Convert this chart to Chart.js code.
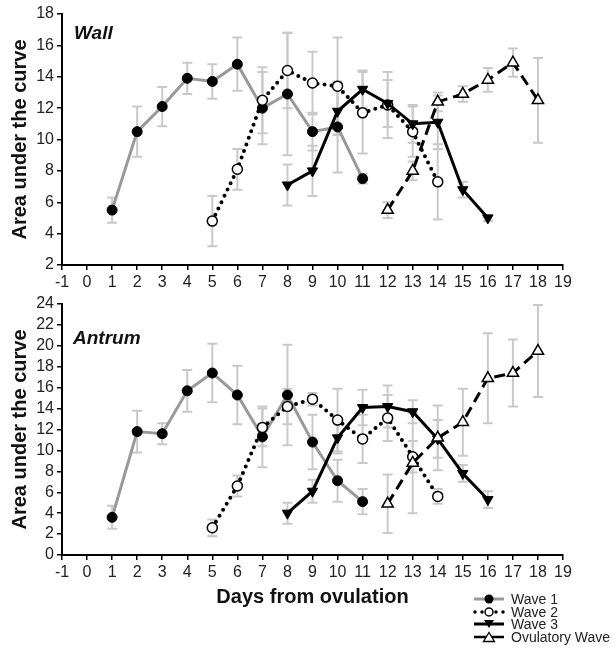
<!DOCTYPE html>
<html>
<head>
<meta charset="utf-8">
<script src="https://cdn.jsdelivr.net/npm/chart.js@4.4.1/dist/chart.umd.min.js"></script>
<style>
    body { margin: 0; background: #fff; }
    #page { position: relative; width: 616px; height: 658px; overflow: hidden; font-family: "Liberation Sans", Arial, sans-serif; }
    .box { position: absolute; left: 0; }
    .panel { position: absolute; font-weight: bold; font-style: italic; font-size: 19px; color: #111; }
    #legend { position: absolute; left: 472px; top: 593px; font-size: 14px; color: #222; }
    #legend div { height: 12.5px; line-height: 12.5px; display: flex; align-items: center; }
    #legend svg { margin-right: 5px; }
</style>
</head>
<body>
<div id="page">
    <div class="box" style="top:0"><canvas id="wallChart" width="616" height="300"></canvas></div>
    <div class="box" style="top:290px"><canvas id="antrumChart" width="616" height="330"></canvas></div>
    <div class="panel" style="left:74px; top:22px">Wall</div>
    <div class="panel" style="left:73px; top:327px">Antrum</div>
    <div id="legend">
        <div><svg width="34" height="12"><line x1="2" y1="6" x2="32" y2="6" stroke="#999" stroke-width="3"/><circle cx="17" cy="6" r="4.5" fill="#000"/></svg>Wave 1</div>
        <div><svg width="34" height="12"><line x1="3" y1="6" x2="32" y2="6" stroke="#000" stroke-width="3.5" stroke-linecap="round" stroke-dasharray="0 7"/><circle cx="17" cy="6" r="4" fill="#fff" stroke="#000" stroke-width="1.5"/></svg>Wave 2</div>
        <div><svg width="34" height="12"><line x1="2" y1="6" x2="32" y2="6" stroke="#000" stroke-width="3"/><polygon points="12,2 22,2 17,10" fill="#000"/></svg>Wave 3</div>
        <div><svg width="34" height="12"><line x1="2" y1="6" x2="32" y2="6" stroke="#000" stroke-width="2.5"/><polygon points="17,1.5 22.5,10.5 11.5,10.5" fill="#fff" stroke="#000" stroke-width="1.3"/></svg>Ovulatory Wave</div>
    </div>
</div>

<script>
// ---- data ----
const wave1Days = [1, 2, 3, 4, 5, 6, 7, 8, 9, 10, 11];
const wave2Days = [5, 6, 7, 8, 9, 10, 11, 12, 13, 14];
const wave3Days = [8, 9, 10, 11, 12, 13, 14, 15, 16];
const ovulDays = [12, 13, 14, 15, 16, 17, 18];

const xTicks = [-1, 0, 1, 2, 3, 4, 5, 6, 7, 8, 9, 10, 11, 12, 13, 14, 15, 16, 17, 18, 19];

// Wall
const wallWave1 = [5.5, 10.5, 12.1, 13.9, 13.7, 14.8, 12.0, 12.9, 10.5, 10.8, 7.5];
const wallWave1Err = [0.8, 1.6, 1.25, 1.0, 1.1, 1.7, 2.3, 3.9, 1.2, 2.9, 0.3];
const wallWave2 = [4.8, 8.1, 12.5, 14.4, 13.6, 13.4, 11.7, 12.2, 10.5, 7.3];
const wallWave2Err = [1.6, 1.3, 2.1, 2.4, 2.0, 3.1, 2.6, 2.1, 1.6, 2.4];
const wallWave3 = [7.1, 8.0, 11.8, 13.2, 12.3, 11.0, 11.1, 6.8, 5.0];
const wallWave3Err = [1.3, 1.6, 1.5, 1.2, 1.5, 1.2, 1.7, 0.5, 0.2];
const wallOvul = [5.5, 8.0, 12.4, 12.9, 13.8, 14.9, 12.5];
const wallOvulErr = [0.5, 0.6, 0.6, 0.5, 0.75, 0.9, 2.7];

// Antrum
const antrumWave1 = [3.6, 11.8, 11.6, 15.7, 17.4, 15.3, 11.3, 15.3, 10.8, 7.1, 5.1];
const antrumWave1Err = [1.1, 2.0, 1.0, 2.0, 2.8, 2.8, 2.9, 4.8, 2.6, 2.0, 1.2];
const antrumWave2 = [2.6, 6.6, 12.2, 14.2, 14.9, 12.9, 11.1, 13.1, 9.4, 5.6];
const antrumWave2Err = [0.8, 1.0, 1.8, 1.7, 0.6, 3.0, 2.3, 2.2, 1.5, 0.7];
const antrumWave3 = [4.0, 6.1, 11.2, 14.1, 14.2, 13.7, 11.1, 7.8, 5.3];
const antrumWave3Err = [1.0, 1.1, 1.5, 1.7, 2.0, 1.1, 1.8, 0.8, 0.8];
const antrumOvul = [4.9, 8.8, 11.2, 12.7, 16.9, 17.4, 19.5];
const antrumOvulErr = [2.8, 4.8, 3.1, 3.2, 4.3, 3.2, 4.4];

const FONT = "'Liberation Sans', Arial, sans-serif";

function pts(days, vals) {
    return days.map((d, i) => ({ x: d, y: vals[i] }));
}

// grey error bars drawn under the lines
const errorBars = {
    id: "errorBars",
    beforeDatasetsDraw(chart) {
        const ctx = chart.ctx;
        const yScale = chart.scales.y;
        ctx.save();
        ctx.strokeStyle = "#c9c9c9";
        ctx.lineWidth = 2;
        chart.data.datasets.forEach((ds, di) => {
            const meta = chart.getDatasetMeta(di);
            meta.data.forEach((pt, i) => {
                const e = ds.errors[i];
                const v = ds.data[i].y;
                const yTop = yScale.getPixelForValue(v + e);
                const yBot = yScale.getPixelForValue(v - e);
                ctx.beginPath();
                ctx.moveTo(pt.x, yTop);
                ctx.lineTo(pt.x, yBot);
                ctx.moveTo(pt.x - 5, yTop);
                ctx.lineTo(pt.x + 5, yTop);
                ctx.moveTo(pt.x - 5, yBot);
                ctx.lineTo(pt.x + 5, yBot);
                ctx.stroke();
            });
        });
        ctx.restore();
    }
};

function makeDatasets(w1, e1, w2, e2, w3, e3, ov, eov) {
    return [
        {
            data: pts(wave1Days, w1), errors: e1, order: 4,
            borderColor: "#999", borderWidth: 3,
            pointStyle: "circle", pointRadius: 5,
            pointBackgroundColor: "#000", pointBorderColor: "#000", pointBorderWidth: 1
        },
        {
            data: pts(wave2Days, w2), errors: e2, order: 3,
            borderColor: "#000", borderWidth: 4, borderDash: [0, 7], borderCapStyle: "round",
            pointStyle: "circle", pointRadius: 5,
            pointBackgroundColor: "#fff", pointBorderColor: "#000", pointBorderWidth: 1.5
        },
        {
            data: pts(wave3Days, w3), errors: e3, order: 2,
            borderColor: "#000", borderWidth: 3,
            pointStyle: "triangle", pointRotation: 180, pointRadius: 6,
            pointBackgroundColor: "#000", pointBorderColor: "#000", pointBorderWidth: 1
        },
        {
            data: pts(ovulDays, ov), errors: eov, order: 1,
            borderColor: "#000", borderWidth: 3, borderDash: [11, 6],
            pointStyle: "triangle", pointRadius: 6.5,
            pointBackgroundColor: "#fff", pointBorderColor: "#000", pointBorderWidth: 1.5
        }
    ];
}

function makeChart(id, datasets, yMin, yMax, xAxisHeight, xTitle, padBottom) {
    return new Chart(document.getElementById(id), {
        type: "line",
        data: { datasets: datasets },
        plugins: [errorBars],
        options: {
            responsive: false,
            animation: false,
            layout: { padding: { top: 14, right: 53, left: 0, bottom: padBottom } },
            plugins: { legend: { display: false }, tooltip: { enabled: false } },
            scales: {
                x: {
                    type: "linear", min: -1, max: 19,
                    afterBuildTicks: (s) => { s.ticks = xTicks.map(v => ({ value: v })); },
                    afterFit: (s) => { s.height = xAxisHeight; },
                    ticks: { autoSkip: false, maxRotation: 0, padding: 3, color: "#222", font: { family: FONT, size: 16 } },
                    grid: { drawOnChartArea: false, drawTicks: true, tickLength: 5, color: "#000", lineWidth: 1.5 },
                    border: { color: "#000", width: 2 },
                    title: {
                        display: !!xTitle, text: xTitle || "", color: "#111",
                        font: { family: FONT, size: 20, weight: "bold" }, padding: { top: 2, bottom: 2 }
                    }
                },
                y: {
                    min: yMin, max: yMax,
                    afterFit: (s) => { s.width = 62; },
                    ticks: { stepSize: 2, autoSkip: false, padding: 3, color: "#222", font: { family: FONT, size: 16 } },
                    grid: { drawOnChartArea: false, drawTicks: true, tickLength: 5, color: "#000", lineWidth: 1.5 },
                    border: { color: "#000", width: 2 },
                    title: {
                        display: true, text: "Area under the curve", color: "#111",
                        font: { family: FONT, size: 20, weight: "bold" }, padding: { top: 8, bottom: 0 }
                    }
                }
            }
        }
    });
}

makeChart("wallChart",
    makeDatasets(wallWave1, wallWave1Err, wallWave2, wallWave2Err, wallWave3, wallWave3Err, wallOvul, wallOvulErr),
    2, 18, 35, null, 0);

makeChart("antrumChart",
    makeDatasets(antrumWave1, antrumWave1Err, antrumWave2, antrumWave2Err, antrumWave3, antrumWave3Err, antrumOvul, antrumOvulErr),
    0, 24, 56, "Days from ovulation", 9);
</script>
</body>
</html>
